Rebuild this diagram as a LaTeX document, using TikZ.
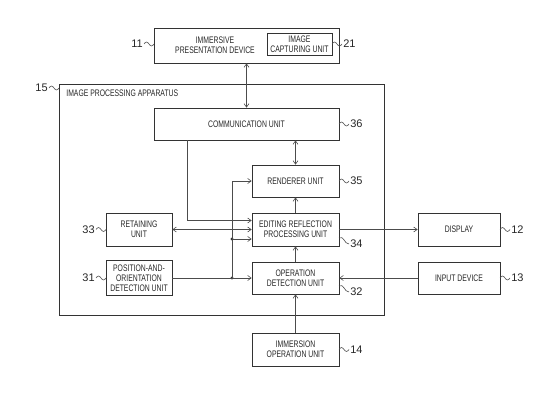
\documentclass[tikz,border=0pt]{standalone}
\usepackage{fontspec}
\setmainfont{Liberation Sans}[FakeStretch=0.72]
\newfontfamily\numfont{Liberation Sans}
\usetikzlibrary{arrows.meta,calc,positioning}

\begin{document}
\begin{tikzpicture}[x=1pt,y=-1pt,>={Straight Barb[length=3.5pt,width=5pt]},
  unit/.style={draw=black!80,line width=0.7pt,align=center,inner sep=1pt,
    font=\fontsize{9.5}{10}\selectfont,text=black!85},
  link/.style={draw=black!70,line width=0.6pt},
  refnum/.style={font=\numfont\fontsize{11}{12}\selectfont,inner sep=1pt,text=black!85},
  junction/.style={circle,fill=black!80,inner sep=0pt,minimum size=3.2pt}]
  \useasboundingbox (0,0) rectangle (549,406);
  % apparatus frame
  \node[unit,minimum width=325,minimum height=231] (apparatus) at (221.5,199.5) {};
  \node[unit,draw=none,anchor=west] (apptitle) at (65,93) {IMAGE PROCESSING APPARATUS};
  % immersive presentation device
  \node[unit,minimum width=185,minimum height=35] (dev) at (246.5,45.5) {};
  \node[unit,draw=none] (devtext) at (215,45.5) {IMMERSIVE\\PRESENTATION DEVICE};
  \node[unit,minimum width=65,minimum height=22] (cap) at (299.5,44) {IMAGE\\CAPTURING UNIT};
  % units
  \node[unit,minimum width=185,minimum height=32] (comm) at (246.5,124) {COMMUNICATION UNIT};
  \node[unit,minimum width=87,minimum height=32] (rend) at (295.5,181) {RENDERER UNIT};
  \node[unit,minimum width=87,minimum height=33] (edit) at (295.5,229.5) {EDITING REFLECTION\\PROCESSING UNIT};
  \node[unit,minimum width=87,minimum height=32] (opdet) at (295.5,278) {OPERATION\\DETECTION UNIT};
  \node[unit,minimum width=87,minimum height=33] (immop) at (295.5,349.5) {IMMERSION\\OPERATION UNIT};
  \node[unit,minimum width=66,minimum height=33] (retain) at (139,229.5) {RETAINING\\UNIT};
  \node[unit,minimum width=66,minimum height=35] (pos) at (139,278) {POSITION-AND-\\ORIENTATION\\DETECTION UNIT};
  \node[unit,minimum width=82,minimum height=33] (disp) at (459,229.5) {DISPLAY};
  \node[unit,minimum width=82,minimum height=32] (input) at (459,278) {INPUT DEVICE};
  % junctions
  \node[junction] (j1) at (232,278) {};
  \node[junction] (j2) at (232,239) {};
  % connections
  \draw[link,<->] (dev) -- (comm);
  \draw[link,<->] (comm.south -| rend.north) -- (rend.north);
  \draw[link,->] ($(comm.south west)+(34,0)$) |- ($(edit.west)+(0,-9)$);
  \draw[link,<->] (retain) -- (edit);
  \draw[link,->] (pos.east) -- (opdet.west);
  \draw[link,->] (j1.center) |- (rend.west);
  \draw[link,->] (j2.center) -- (j2 -| edit.west);
  \draw[link,->] (edit) -- (rend);
  \draw[link,->] (opdet) -- (edit);
  \draw[link,->] (immop) -- (opdet);
  \draw[link,->] (input) -- (opdet);
  \draw[link,->] (edit) -- (disp);
  % reference numerals
  \foreach \px/\py/\t in {332/44/21,339/124/36,339/181/35,500/229.5/12,500/278/13,339/349.5/14}
    \draw[link] (\px,\py) sin ++(2.5,-2) cos ++(2.5,2) sin ++(2.5,2) cos ++(2.5,-2)
      node[refnum,right] (n\t) {\t};
  \foreach \px/\py/\t in {144/44/11,49/88/15,96/229.5/33,96/278/31}
    \draw[link] (\px,\py) node[refnum,left] (n\t) {\t}
      sin ++(2.5,-2) cos ++(2.5,2) sin ++(2.5,2) cos ++(2.5,-2);
  \foreach \py/\t in {238/34,286/32}
    \draw[link] (339,\py) .. controls (344,\py-3) and (344,\py+6) .. (349,\py+6)
      node[refnum,right] (n\t) {\t};
\end{tikzpicture}
\end{document}
